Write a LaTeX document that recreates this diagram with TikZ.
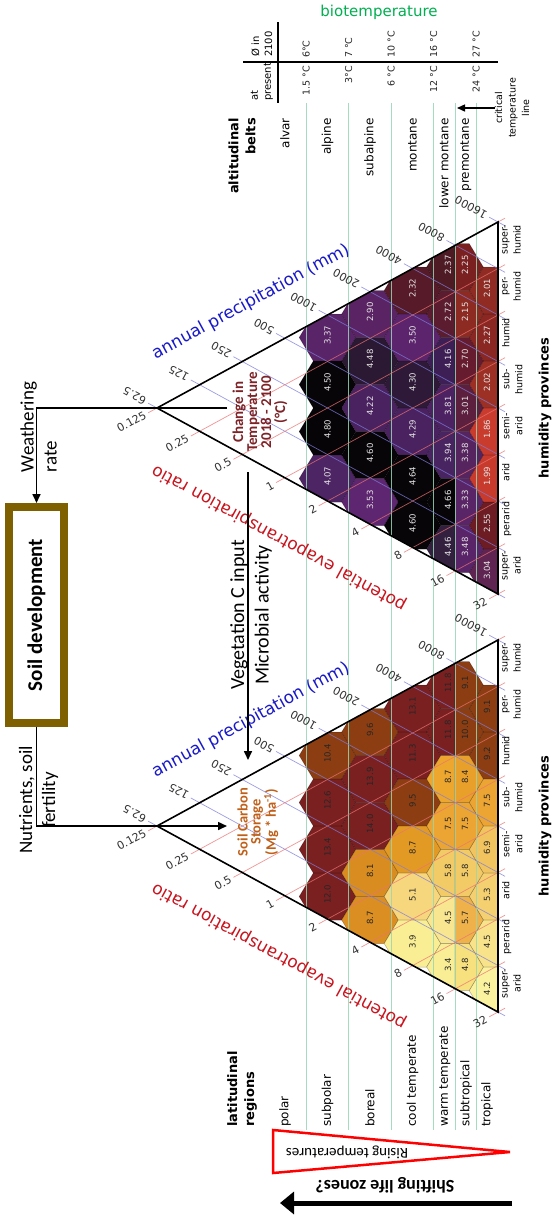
\documentclass[tikz,border=0pt]{standalone}
\usepackage{fontspec}
\setmainfont{DejaVu Sans}
\newfontfamily\carlito{Carlito}
\usetikzlibrary{arrows.meta}
\newcommand\fsz[2]{\fontsize{#1}{#2}\selectfont}

\definecolor{gridblue}{RGB}{125,125,220}
\definecolor{gridred}{RGB}{235,115,115}
\definecolor{greenline}{RGB}{150,215,180}
\definecolor{bioGreen}{RGB}{0,176,80}
\definecolor{boxbrown}{RGB}{127,96,0}
\definecolor{tempred}{RGB}{125,35,40}
\definecolor{carbonorange}{RGB}{192,96,24}
\definecolor{axisblue}{RGB}{25,25,200}
\definecolor{axisred}{RGB}{200,20,30}
% temperature change palette
\definecolor{c337}{HTML}{5A2468}
\definecolor{c450}{HTML}{080508}
\definecolor{c480}{HTML}{060406}
\definecolor{c407}{HTML}{4E2564}
\definecolor{c290}{HTML}{5A2363}
\definecolor{c448}{HTML}{2B1832}
\definecolor{c422}{HTML}{4A2260}
\definecolor{c460}{HTML}{080508}
\definecolor{c353}{HTML}{5E2670}
\definecolor{c232}{HTML}{561A28}
\definecolor{c350}{HTML}{5B246C}
\definecolor{c430}{HTML}{2E1A38}
\definecolor{c429}{HTML}{4A2260}
\definecolor{c464}{HTML}{080508}
\definecolor{c237}{HTML}{4E1A24}
\definecolor{c225}{HTML}{7B2020}
\definecolor{c272}{HTML}{5A1C2E}
\definecolor{c215}{HTML}{8D2A22}
\definecolor{c416}{HTML}{3D1F55}
\definecolor{c270}{HTML}{661B2E}
\definecolor{c381}{HTML}{4C2262}
\definecolor{c301}{HTML}{5C1F3E}
\definecolor{c394}{HTML}{482461}
\definecolor{c338}{HTML}{56245F}
\definecolor{c466}{HTML}{080508}
\definecolor{c333}{HTML}{5A2566}
\definecolor{c446}{HTML}{33203F}
\definecolor{c348}{HTML}{5A2468}
\definecolor{c201}{HTML}{8F2B22}
\definecolor{c227}{HTML}{8B2722}
\definecolor{c202}{HTML}{9C3025}
\definecolor{c186}{HTML}{C93B2D}
\definecolor{c199}{HTML}{C73A2C}
\definecolor{c255}{HTML}{6C1C22}
\definecolor{c304}{HTML}{5F2452}
% soil carbon palette
\definecolor{dr}{HTML}{7A2020}
\definecolor{br}{HTML}{8C3E12}
\definecolor{o81}{HTML}{D98C1F}
\definecolor{o87b}{HTML}{DB8E21}
\definecolor{o87c}{HTML}{E39A25}
\definecolor{o51}{HTML}{F7D77E}
\definecolor{o39}{HTML}{FAEE95}
\definecolor{o87d}{HTML}{EDA72E}
\definecolor{o84}{HTML}{E9A02A}
\definecolor{o75}{HTML}{ECA532}
\definecolor{o58}{HTML}{F3CB66}
\definecolor{o45d}{HTML}{F8E690}
\definecolor{o57}{HTML}{EFB24A}
\definecolor{o34}{HTML}{F9EE95}
\definecolor{o48}{HTML}{F7E07E}
\definecolor{o69}{HTML}{F1C460}
\definecolor{o53}{HTML}{F5D070}
\definecolor{o45e}{HTML}{F8E38A}
\definecolor{o42}{HTML}{FBF2A0}

\tikzset{
  hexbd/.style={draw=black, draw opacity=0.3, line width=0.5pt},
  hexlabT/.style={rotate=90, inner sep=0pt, font=\fsz{8.5}{9}, text=white!90!black},
  hexlabB/.style={rotate=90, inner sep=0pt, font=\fsz{8.5}{9}, text=black!85},
  gblue/.style={draw=gridblue, line width=0.7pt, draw opacity=0.75},
  gred/.style={draw=gridred, line width=0.7pt, draw opacity=0.75},
  gline/.style={draw=greenline, line width=0.8pt, draw opacity=0.85},
  triedge/.style={draw=black, line width=1.6pt},
  ptick/.style={inner sep=0pt, font=\fsz{11}{11}, text=black!80},
  hum/.style={rotate=90, anchor=north, align=center, inner sep=0pt, font=\fsz{9.5}{13}},
  conn/.style={draw=black, line width=1.6pt, -{Triangle[length=9pt,width=8pt]}},
  vlab/.style={rotate=90, inner sep=0pt, font=\fsz{12}{14}},
  tval/.style={rotate=90, inner sep=0pt, font=\fsz{9.5}{10}, text=black!85},
  annot/.style={rotate=90, inner sep=0pt, font=\carlito\fsz{19}{23}},
  boldlab/.style={rotate=90, inner sep=0pt, font=\bfseries\fsz{13}{17}},
}

% Holdridge triangle frame: #1 prefix, #2 centre y
\newcommand\holdridge[2]{%
  \coordinate (#1apex) at (157,#2);
  \coordinate (#1top) at (498,#2-186);
  \coordinate (#1bot) at (498,#2+186);
  \foreach \k/\lab in {0/62.5,1/125,2/250,3/500,4/1000,5/2000,6/4000,7/8000,8/16000}{
    \draw[gblue] (157+42.625*\k-8.78,#2-23.25*\k-4.79) -- (505,#2+186-46.5*\k+3.8);
    \node[ptick, anchor=west, rotate=151.4] (#1p\k) at (157+42.625*\k-11.5,#2-23.25*\k-6.3) {\lab};
  }
  \foreach \k/\lab in {0/0.125,1/0.25,2/0.5,3/1,4/2,5/4,6/8,7/16,8/32}{
    \draw[gred] (157+42.625*\k-8.78,#2+23.25*\k+4.79) -- (505,#2-186+46.5*\k-3.8);
    \node[ptick, anchor=east, rotate=28.6] (#1q\k) at (157+42.625*\k-11.5,#2+23.25*\k+6.3) {\lab};
  }
  \draw[triedge] (#1apex) -- (#1top) -- (#1bot) -- cycle;
  \foreach \i/\hl in {0/{super-\\humid},1/{per-\\humid},2/humid,3/{sub-\\humid},4/{semi-\\arid},5/arid,6/perarid,7/{super-\\arid}}{
    \node[hum] (#1h\i) at (502,#2-186+46.5*\i+18) {\hl};
  }
  \node[boldlab] (#1hp) at (545,#2) {humidity provinces};
  \node[rotate=28.6, inner sep=0pt, text=axisblue, font=\fsz{17}{17}] (#1ap) at (251,#2-106) {annual precipitation (mm)};
  \node[rotate=151.4, inner sep=0pt, text=axisred, font=\fsz{17}{17}] (#1pe) at (279,#2+130) {potential evapotranspiration ratio};
}

\newcommand\hexpath[2]{(#1-28.3,#2) -- (#1-14.15,#2-23.5) -- (#1+14.15,#2-23.5) -- (#1+28.3,#2) -- (#1+14.15,#2+23.5) -- (#1-14.15,#2+23.5) -- cycle}

\begin{document}
\begin{tikzpicture}[x=1pt,y=-1pt]
\path[use as bounding box, fill=white] (0,0) rectangle (553,1216);

% ---------- hexagons, upper triangle ----------
\begin{scope}
\clip (157,408) -- (498,222) -- (498,594) -- cycle;
\foreach \x/\y/\c in {327.5/337.5/c337,327.5/384.5/c450,327.5/431.5/c480,327.5/478.5/c407,
  370/314/c290,370/361/c448,370/408/c422,370/455/c460,370/502/c353,
  412.5/290.5/c232,412.5/337.5/c350,412.5/384.5/c430,412.5/431.5/c429,412.5/478.5/c464,412.5/525.5/c460,
  497.5/290.5/c201,497.5/337.5/c227,497.5/384.5/c202,497.5/431.5/c186,497.5/478.5/c199,497.5/525.5/c255,497.5/572.5/c304}{
  \path[hexbd, fill=\c] (\x-28.3,\y) -- (\x-14.15,\y-23.5) -- (\x+14.15,\y-23.5) -- (\x+28.3,\y) -- (\x+14.15,\y+23.5) -- (\x-14.15,\y+23.5) -- cycle;
}
\foreach \y/\cl/\cr in {267/c237/c225,314/c272/c215,361/c416/c270,408/c381/c301,455/c394/c338,502/c466/c333,549/c446/c348}{
  \path[hexbd, fill=\cl] (426.7,\y) -- (440.85,\y-23.5) -- (455,\y-23.5) -- (455,\y+23.5) -- (440.85,\y+23.5) -- cycle;
  \path[hexbd, fill=\cr] (455,\y-23.5) -- (469.15,\y-23.5) -- (483.3,\y) -- (469.15,\y+23.5) -- (455,\y+23.5) -- cycle;
}
\end{scope}

% ---------- hexagons, lower triangle ----------
\begin{scope}
\clip (157,826) -- (498,640) -- (498,1012) -- cycle;
\foreach \x/\y/\c in {327.5/755.5/br,327.5/802.5/dr,327.5/849.5/dr,327.5/896.5/dr,
  370/732/br,370/779/dr,370/826/dr,370/873/o81,370/920/o87b,
  412.5/708.5/dr,412.5/755.5/dr,412.5/802.5/br,412.5/849.5/o87c,412.5/896.5/o51,412.5/943.5/o39,
  497.5/708.5/br,497.5/755.5/br,497.5/802.5/o75,497.5/849.5/o69,497.5/896.5/o53,497.5/943.5/o45e,497.5/990.5/o42}{
  \path[hexbd, fill=\c] (\x-28.3,\y) -- (\x-14.15,\y-23.5) -- (\x+14.15,\y-23.5) -- (\x+28.3,\y) -- (\x+14.15,\y+23.5) -- (\x-14.15,\y+23.5) -- cycle;
}
\foreach \y/\cl/\cr in {685/dr/br,732/dr/br,779/o87d/o84,826/o75/o75,873/o58/o58,920/o45d/o57,967/o34/o48}{
  \path[hexbd, fill=\cl] (426.7,\y) -- (440.85,\y-23.5) -- (455,\y-23.5) -- (455,\y+23.5) -- (440.85,\y+23.5) -- cycle;
  \path[hexbd, fill=\cr] (455,\y-23.5) -- (469.15,\y-23.5) -- (483.3,\y) -- (469.15,\y+23.5) -- (455,\y+23.5) -- cycle;
}
\end{scope}

% ---------- green belt lines ----------
\foreach \gx in {306.25,348.75,391.25,433.75,455,476.25}{
  \draw[gline] (\gx,103) -- (\gx,1130);
}

% ---------- triangle frames, grids, axis labels ----------
\holdridge{T}{408}
\holdridge{B}{826}

% ---------- hexagon values ----------
\foreach \x/\y/\l [count=\i] in {327.5/337.5/3.37,327.5/384.5/4.50,327.5/431.5/4.80,327.5/478.5/4.07,
  370/314/2.90,370/361/4.48,370/408/4.22,370/455/4.60,370/502/3.53,
  412.5/290.5/2.32,412.5/337.5/3.50,412.5/384.5/4.30,412.5/431.5/4.29,412.5/478.5/4.64,412.5/525.5/4.60,
  448/267/2.37,448/314/2.72,448/361/4.16,448/408/3.81,448/455/3.94,448/502/4.66,448/549/4.46,
  465/267/2.25,465/314/2.15,465/361/2.70,465/408/3.01,465/455/3.38,465/502/3.33,465/549/3.48,
  487/290.5/2.01,487/337.5/2.27,487/384.5/2.02,487/431.5/1.86,487/478.5/1.99,487/525.5/2.55,487/572.5/3.04}{
  \node[hexlabT] (tv\i) at (\x,\y-2) {\l};
}
\foreach \x/\y/\l [count=\i] in {327.5/755.5/10.4,327.5/802.5/12.6,327.5/849.5/13.4,327.5/896.5/12.0,
  370/732/9.6,370/779/13.9,370/826/14.0,370/873/8.1,370/920/8.7,
  412.5/708.5/13.1,412.5/755.5/11.3,412.5/802.5/9.5,412.5/849.5/8.7,412.5/896.5/5.1,412.5/943.5/3.9,
  448/685/11.8,448/732/11.8,448/779/8.7,448/826/7.5,448/873/5.8,448/920/4.5,448/967/3.4,
  465/685/9.1,465/732/10.0,465/779/8.4,465/826/7.5,465/873/5.8,465/920/5.7,465/967/4.8,
  487/708.5/9.1,487/755.5/9.2,487/802.5/7.5,487/849.5/6.9,487/896.5/5.3,487/943.5/4.5,487/990.5/4.2}{
  \node[hexlabB] (sv\i) at (\x,\y-2) {\l};
}

% ---------- biotemperature table ----------
\node[inner sep=0pt, text=bioGreen, font=\fsz{15}{15}] (bio) at (379,12) {biotemperature};
\draw[line width=1.2pt] (243,62) -- (498,62);
\draw[line width=1.2pt] (278,22) -- (278,103);
\node[vlab, anchor=west, align=left, font=\fsz{10}{13}] (atpres) at (262,101) {at\\present};
\node[vlab, anchor=west, align=left, font=\fsz{10}{13}] (in2100) at (262,57) {Ø in\\2100};
\foreach \vx/\a/\b [count=\i] in {306.25/1.5 °C/6°C,348.75/3°C/7 °C,391.25/6 °C/10 °C,433.75/12 °C/16 °C,476.25/24 °C/27 °C}{
  \node[tval, anchor=east] (now\i) at (\vx,66) {\a};
  \node[tval, anchor=west] (fut\i) at (\vx,58) {\b};
}
\node[boldlab, anchor=east, align=right] (altb) at (242,118) {altitudinal\\belts};
\foreach \ax/\al [count=\i] in {285/alvar,327.5/alpine,370/subalpine,412.5/montane,444/lower montane,466/premontane}{
  \node[vlab, anchor=east] (alt\i) at (\ax,118) {\al};
}
\node[rotate=90, inner sep=0pt, align=center, font=\fsz{9.5}{13.5}] (crit) at (512,108) {critical\\temperature\\line};
\coordinate (critend) at (457,108);
\draw[draw=black, line width=1.4pt, -{Triangle[length=8pt,width=7pt]}] (crit.north) -- (critend);

% ---------- latitudinal regions ----------
\node[boldlab, anchor=west, align=left] (latr) at (242,1127) {latitudinal\\regions};
\foreach \lx/\ll [count=\i] in {285/polar,327.5/subpolar,370/boreal,412.5/cool temperate,445/warm temperate,466/subtropical,487/tropical}{
  \node[vlab, anchor=west] (lat\i) at (\lx,1127) {\ll};
}

% ---------- rising temperatures / shifting life zones ----------
\draw[red, line width=2.5pt] (273,1130) -- (510,1152) -- (273,1173) -- cycle;
\node[rotate=180, inner sep=0pt, font=\carlito\fsz{15}{15}] (rising) at (347,1152) {Rising temperatures};
\node[rotate=180, inner sep=0pt, font=\carlito\bfseries\fsz{18}{18}] (shift) at (385,1185) {Shifting life zones?};
\coordinate (sa) at (512,1203);
\coordinate (sb) at (280,1203);
\draw[line width=5pt, -{Triangle[length=14pt,width=22pt]}] (sa) -- (sb);

% ---------- soil development and fluxes ----------
\node[draw=boxbrown, line width=8pt, minimum width=55pt, minimum height=216pt, inner sep=0pt] (soil) at (36.5,615) {};
\node[rotate=90, inner sep=0pt, font=\carlito\bfseries\fsz{21}{21}] (soiltxt) at (soil.center) {Soil development};

\coordinate (wstart) at (227,408);
\draw[conn] (wstart) -| (soil.north);
\node[annot, align=left] (wtxt) at (38.5,427) {Weathering\\rate};

\coordinate (nend) at (227,826);
\draw[conn] (soil.south) |- (nend);
\node[annot, align=center] (ntxt) at (38.5,800) {Nutrients, soil\\fertility};

\coordinate (vstart) at (248,472);
\coordinate (vend) at (248,760);
\draw[conn] (vstart) -- (vend);
\node[annot, align=center, font=\carlito\fsz{20}{24.5}] (vtxt) at (251,615) {Vegetation C input\\Microbial activity};

\node[rotate=90, inner sep=0pt, align=center, text=tempred, font=\carlito\bfseries\fsz{15}{14}] (ctemp) at (260,412) {Change in\\Temperature\\2018 - 2100\\(°C)};
\node[rotate=90, inner sep=0pt, align=center, text=carbonorange, font=\carlito\bfseries\fsz{14.5}{13}] (scs) at (258,822) {Soil Carbon\\Storage\\(Mg * ha\textsuperscript{-1})};
\end{tikzpicture}
\end{document}
